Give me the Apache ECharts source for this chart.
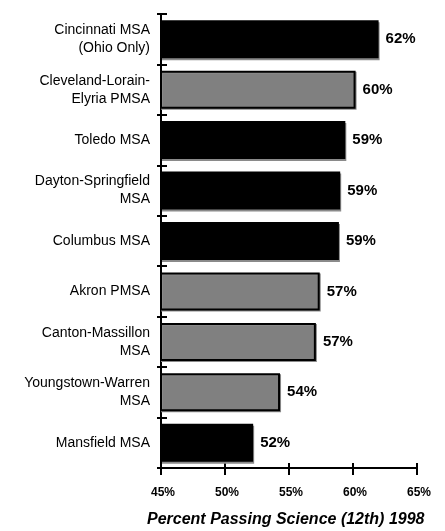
<!DOCTYPE html>
<html>
<head>
<meta charset="utf-8">
<script src="https://cdn.jsdelivr.net/npm/echarts@6/dist/echarts.min.js"></script>
<style>
html,body{margin:0;padding:0;background:#fff;}
#chart{width:445px;height:531px;}
</style>
</head>
<body>
<div id="chart"></div>
<script>
const categories = [
  'Cincinnati MSA\n(Ohio Only)',
  'Cleveland-Lorain-\nElyria PMSA',
  'Toledo MSA',
  'Dayton-Springfield\nMSA',
  'Columbus MSA',
  'Akron PMSA',
  'Canton-Massillon\nMSA',
  'Youngstown-Warren\nMSA',
  'Mansfield MSA'
];
// values shown as black bars (MSA group) and gray bars (other group)
const darkValues  = [62.0, null, 59.4, 59.0, 58.9, null, null, null, 52.2];
const lightValues = [null, 60.2, null, null, null, 57.4, 57.1, 54.3, null];
const xTicks = [45, 50, 55, 60, 65];
const axisTitle = 'Percent Passing Science (12th) 1998';

const FONT = '"Liberation Sans", Arial, sans-serif';
const chart = echarts.init(document.getElementById('chart'), null, {renderer: 'canvas'});

const labelCfg = {
  show: true,
  position: 'right',
  distance: 7,
  fontFamily: FONT,
  fontWeight: 'bold',
  fontSize: 15,
  color: '#000',
  formatter: p => Math.round(p.value) + '%'
};

const grid = {left: 161, right: 28, top: 14, bottom: 63};

chart.setOption({
  animation: false,
  title: {
    text: axisTitle,
    left: 142,
    top: 507,
    textStyle: {fontFamily: FONT, fontWeight: 'bold', fontStyle: 'italic', fontSize: 16, color: '#000'}
  },
  grid: grid,
  xAxis: [{
    type: 'value',
    min: xTicks[0],
    max: xTicks[xTicks.length - 1],
    interval: 5,
    axisLine: {show: true, lineStyle: {color: '#000', width: 2}},
    axisTick: {show: true, length: 7, lineStyle: {color: '#000', width: 2}},
    axisLabel: {fontFamily: FONT, fontWeight: 'bold', fontSize: 12, color: '#000', margin: 19,
      padding: [0, 0, 0, 4], formatter: v => v + '%'},
    splitLine: {show: false}
  }, {
    type: 'value',
    position: 'bottom',
    min: xTicks[0],
    max: xTicks[xTicks.length - 1],
    interval: 5,
    axisLine: {show: false},
    axisTick: {show: true, inside: true, length: 5, lineStyle: {color: '#000', width: 2}},
    axisLabel: {show: false},
    splitLine: {show: false}
  }],
  yAxis: [{
    type: 'category',
    data: categories,
    inverse: true,
    axisLine: {show: true, lineStyle: {color: '#000', width: 2}},
    axisTick: {show: true, length: 4, alignWithLabel: false, lineStyle: {color: '#000', width: 2}},
    axisLabel: {fontFamily: FONT, fontSize: 14, color: '#000', margin: 11, lineHeight: 18, align: 'right'}
  }, {
    type: 'category',
    data: categories,
    inverse: true,
    position: 'left',
    axisLine: {show: false},
    axisTick: {show: true, inside: true, length: 6, alignWithLabel: false, lineStyle: {color: '#000', width: 2}},
    axisLabel: {show: false}
  }],
  series: [{
    type: 'bar',
    name: 'dark',
    stack: 'one',
    data: darkValues,
    barWidth: 38,
    itemStyle: {color: '#000', borderColor: '#000', borderWidth: 0,
      shadowColor: '#8a8a8a', shadowOffsetX: 1, shadowOffsetY: 2, shadowBlur: 0},
    label: labelCfg
  }, {
    type: 'bar',
    name: 'light',
    stack: 'one',
    data: lightValues,
    barWidth: 38,
    itemStyle: {color: '#808080', borderColor: '#000', borderWidth: 2,
      shadowColor: '#8a8a8a', shadowOffsetX: 1, shadowOffsetY: 1, shadowBlur: 0},
    label: labelCfg
  }]
});
</script>
</body>
</html>
